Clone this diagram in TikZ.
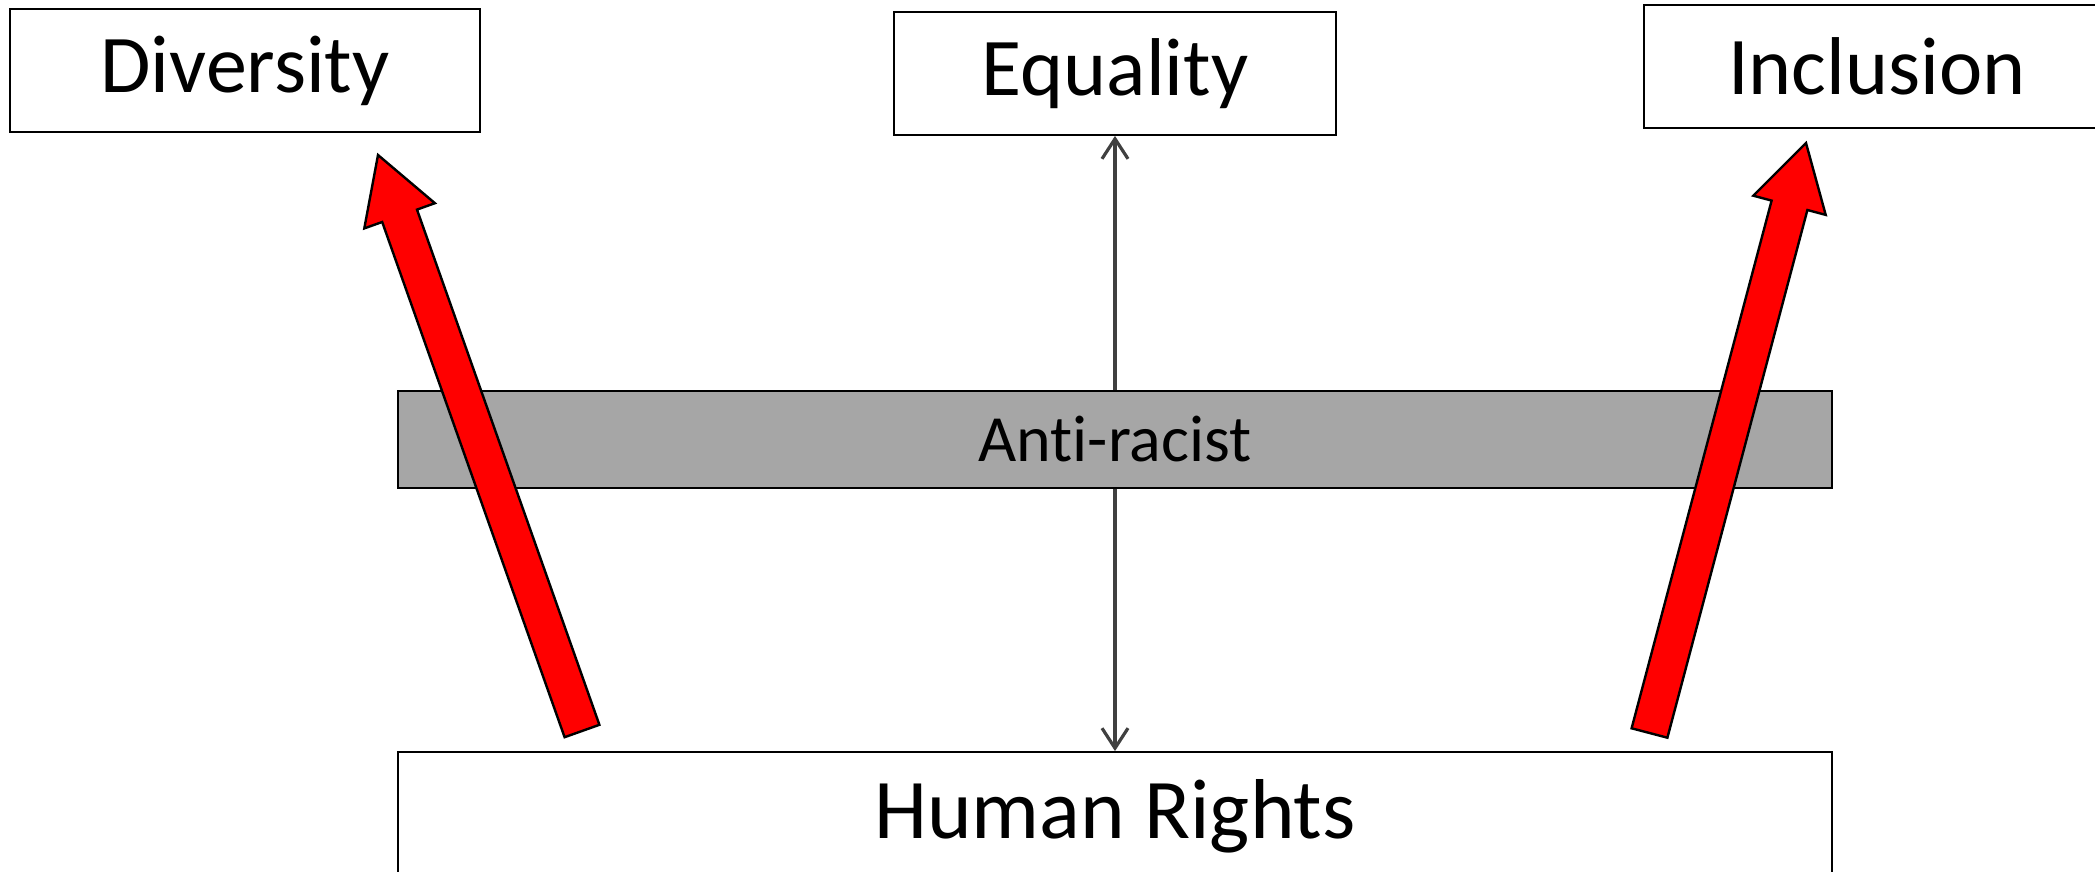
\documentclass[tikz,border=0pt]{standalone}
\usepackage{fontspec}
\setmainfont[Ligatures=NoCommon]{Carlito}
\usetikzlibrary{arrows.meta}
\definecolor{bargray}{HTML}{A6A6A6}
\definecolor{linegray}{HTML}{404040}
\begin{document}
\begin{tikzpicture}[x=0.5pt,y=-0.5pt,
  box/.style={draw=black,line width=0.9pt,fill=white,inner sep=0pt,font=\fontsize{41}{49}\selectfont},
  bar/.style={draw=black,line width=0.9pt,fill=bargray,inner sep=0pt,font=\fontsize{33}{40}\selectfont},
  redarrow/.style={draw=black,fill=red,line width=1.2pt,line join=miter},
  link/.style={draw=linegray,line width=1.6pt,{Straight Barb[length=10pt,width=13pt,line width=1.6pt]}-{Straight Barb[length=10pt,width=13pt,line width=1.6pt]}}]
\useasboundingbox (0,0) rectangle (2095,872);
\clip (0,0) rectangle (2095,872);
\fill[white] (0,0) rectangle (2095,872);
\node[box,minimum width=235pt,minimum height=61.5pt] (div) at (245,70.5) {Diversity};
\node[box,minimum width=221pt,minimum height=61.5pt] (eq) at (1115,73.5) {Equality};
\node[box,minimum width=233pt,minimum height=61.5pt] (inc) at (1877,66.5) {Inclusion};
\node[box,minimum width=717pt,minimum height=64pt,font=\fontsize{42.5}{50}\selectfont] (hr) at (1115,816) {Human Rights};
\draw[link] (eq.south) -- (hr.north);
\node[bar,minimum width=717pt,minimum height=48.5pt] (ar) at (1115,439.5) {Anti-racist};
\draw[redarrow] (564.6,737.2) -- (382.2,222.0) -- (364.3,228.4) -- (378,155) -- (434.9,203.2) -- (417.0,209.6) -- (599.4,724.8) -- cycle;
\draw[redarrow] (1631.6,728.3) -- (1771.6,200.6) -- (1753.3,195.7) -- (1806,143) -- (1825.7,214.9) -- (1807.4,210.0) -- (1667.4,737.7) -- cycle;
\end{tikzpicture}
\end{document}
